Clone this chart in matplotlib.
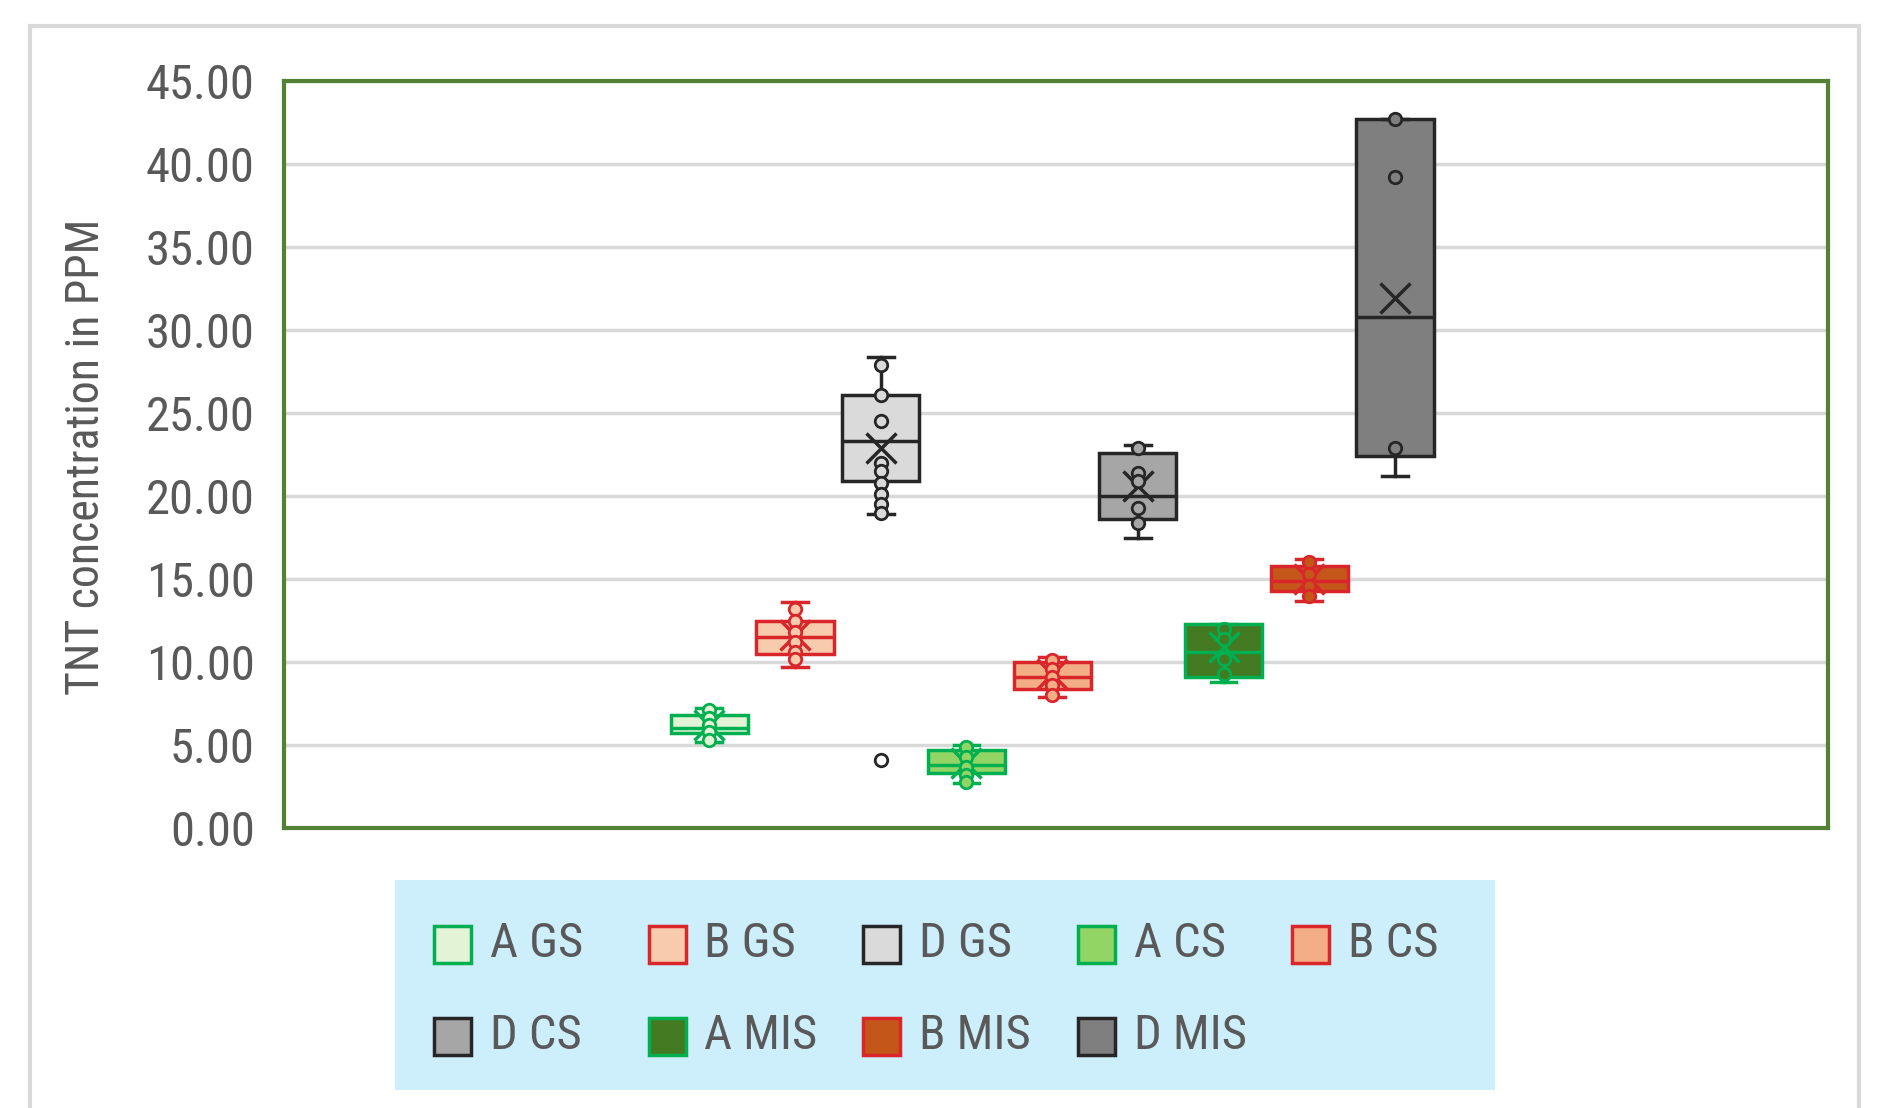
import numpy as np
import matplotlib
matplotlib.use('Agg')
import matplotlib.pyplot as plt
from matplotlib.patches import Rectangle

plt.rcParams['font.family'] = ['Roboto Condensed', 'Archivo Narrow', 'Open Sans', 'DejaVu Sans']

# TNT concentration (ppm) per sample group
series = ['A GS', 'B GS', 'D GS', 'A CS', 'B CS', 'D CS', 'A MIS', 'B MIS', 'D MIS']
whis_lo = [5.2, 9.7, 18.9, 2.7, 7.9, 17.5, 8.8, 13.7, 21.2]
q1 = [5.7, 10.5, 20.9, 3.3, 8.4, 18.6, 9.1, 14.3, 22.4]
medians = [6.0, 11.5, 23.3, 3.8, 9.1, 20.0, 10.6, 14.9, 30.8]
q3 = [6.8, 12.5, 26.1, 4.7, 10.0, 22.6, 12.3, 15.8, 42.7]
whis_hi = [7.2, 13.6, 28.4, 5.0, 10.3, 23.1, 12.3, 16.2, 42.7]
means = [6.2, 11.6, 22.9, 3.9, 9.3, 20.6, 10.9, 15.0, 31.9]
inner_points = [
    [7.1, 6.6, 6.2, 5.8, 5.3],
    [13.2, 12.5, 11.8, 11.2, 10.6, 10.2],
    [27.9, 26.1, 24.5, 22.0, 21.5, 20.8, 20.1, 19.5, 19.0],
    [4.9, 4.3, 3.7, 3.2, 2.8],
    [10.1, 9.6, 9.1, 8.6, 8.0],
    [22.9, 21.4, 20.9, 19.3, 18.4],
    [12.0, 11.4, 10.2, 9.3],
    [16.0, 15.3, 14.6, 14.0],
    [42.7, 39.2, 22.9],
]
outliers = [[], [], [4.1], [], [], [], [], [], []]

face_colors = ['#E2F3D6', '#F8CBAD', '#DADADA', '#92D564', '#F4AE86', '#A6A6A6',
               '#437A22', '#C4561A', '#7F7F7F']
edge_colors = ['#00B050', '#D9262A', '#262626', '#00B050', '#D9262A', '#262626',
               '#00B050', '#D9262A', '#262626']

W, H = 1878, 1108
fig = plt.figure(figsize=(W / 100, H / 100), dpi=100)
ax = fig.add_axes([284 / W, 1 - 828 / H, 1544 / W, 747 / H])

stats = []
for i, name in enumerate(series):
    stats.append(dict(label=name, whislo=whis_lo[i], q1=q1[i], med=medians[i],
                      q3=q3[i], whishi=whis_hi[i], mean=means[i],
                      fliers=np.array(outliers[i])))

pos = np.arange(len(series))
bp = ax.bxp(stats, positions=pos, widths=0.9, capwidths=0.3, patch_artist=True,
            showmeans=True, showfliers=True, zorder=3)

for i in range(len(series)):
    fc, ec = face_colors[i], edge_colors[i]
    bp['boxes'][i].set(facecolor=fc, edgecolor=ec, linewidth=2.5)
    bp['medians'][i].set(color=ec, linewidth=2.5)
    for j in (2 * i, 2 * i + 1):
        bp['whiskers'][j].set(color=ec, linewidth=2.5)
        bp['caps'][j].set(color=ec, linewidth=2.5)
    bp['means'][i].set(marker='x', markeredgecolor=ec, markersize=21, markeredgewidth=2.5)
    bp['fliers'][i].set(marker='o', markerfacecolor='white', markeredgecolor=ec,
                        markersize=9, markeredgewidth=2)
    pts = inner_points[i]
    ax.plot(np.full(len(pts), pos[i]), pts, 'o', mfc=fc, mec=ec, ms=9, mew=2, zorder=4)

ax.set_xlim(-4.96, 13.05)
ax.set_ylim(0, 45)
ax.set_yticks(np.arange(0, 46, 5))
ax.yaxis.set_major_formatter(matplotlib.ticker.FormatStrFormatter('%.2f'))
ax.set_xticks([])
ax.tick_params(axis='y', length=0, pad=21, labelsize=35, labelcolor='#595959')
ax.yaxis.grid(True, color='#D9D9D9', linewidth=2.5)
ax.set_axisbelow(True)
for sp in ax.spines.values():
    sp.set_color('#548235')
    sp.set_linewidth(3)

fig.text(86 / W, 1 - 457 / H, 'TNT concentration in PPM', rotation=90,
         ha='center', va='center', fontsize=33, color='#595959')

# chart area border (open at the bottom)
fig.add_artist(Rectangle((30 / W, -0.1), 1829 / W, 1.1 - 26 / H, transform=fig.transFigure,
                         fill=False, edgecolor='#D9D9D9', linewidth=3))

# legend panel: 5 entries per row, fixed column pitch
fig.add_artist(Rectangle((395 / W, 1 - 1090 / H), 1100 / W, 210 / H, transform=fig.transFigure,
                         facecolor='#CDEEFB', edgecolor='none', zorder=0))
sw = 37
for k, name in enumerate(series):
    row, col = divmod(k, 5)
    x0 = 434 + col * 214.5
    yc = 944 + row * 92
    fig.add_artist(Rectangle((x0 / W, 1 - (yc + sw / 2) / H), sw / W, sw / H,
                             transform=fig.transFigure, facecolor=face_colors[k],
                             edgecolor=edge_colors[k], linewidth=2.5))
    fig.text((x0 + sw + 19) / W, 1 - yc / H, name, ha='left', va='center',
             fontsize=35, color='#595959')

fig.savefig('out.png', dpi=100, facecolor='white')
